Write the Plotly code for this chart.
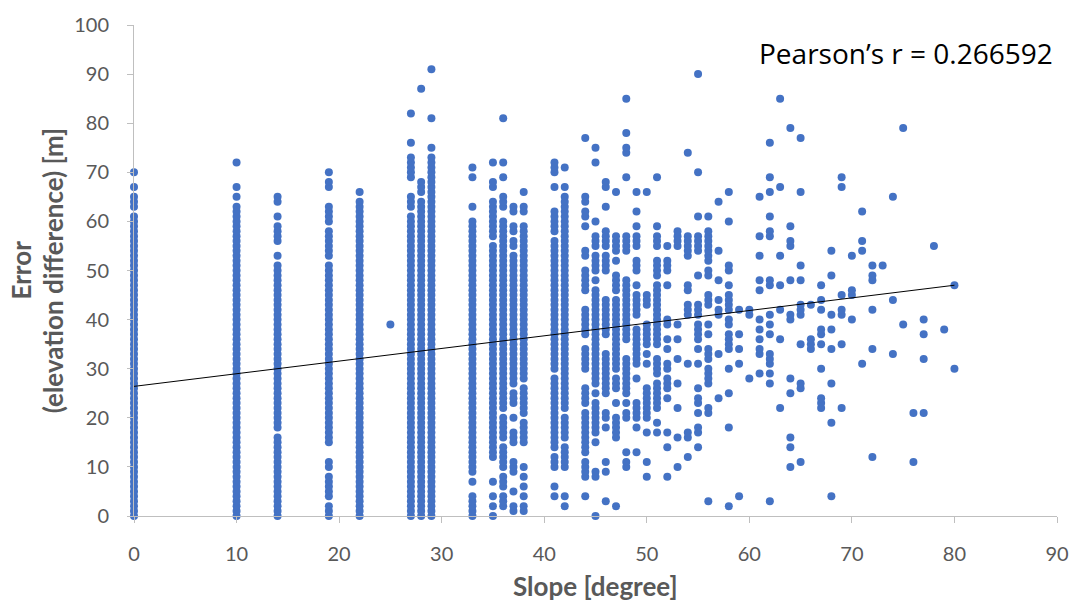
import plotly.graph_objects as go

# Slope value of each column of points, and the error values read for that column.
# "a-b" means an unbroken streak of points from a to b (one point per metre).
slope_columns = [0, 10, 14, 19, 22, 25, 27, 28, 29, 33, 35, 36, 37, 38, 41, 42,
                 44, 45, 46, 47, 48, 49, 50, 51, 52, 53, 54, 55, 56, 57, 58, 59,
                 60, 61, 62, 63, 64, 65, 66, 67, 68, 69, 70, 71, 72, 73, 74, 75,
                 76, 77, 78, 79, 80]
error_runs = [
    "0-61 63-65 67 70",                                   # 0
    "0-63 65 67 72",                                      # 10
    "0-16 18-51 53 56-59 61 64 65",                       # 14
    "0-2 4-8 10 11 15-51 53-58 60-63 67 68 70",           # 19
    "0-64 66",                                            # 22
    "39",                                                 # 25
    "0-61 63-65 69-73 76 82",                             # 27
    "0-64 66-68 87",                                      # 28
    "0-73 75 81 91",                                      # 29
    "0-4 7 9-60 63 69 71",                                # 33
    "0 2 4 7 12-55 57-64 67 68 72",                       # 35
    "2-4 6-8 10-14 16-20 22-60 63-65 69 72 81",           # 36
    "1 2 5 9-11 15-17 20 23-25 27-53 55 56 58 59 62 63",  # 37
    "1 2 4 6 8 10 15-19 21-26 28-59 62 63 66",            # 38
    "4 6 10-12 14-28 30-56 58-62 67 70-72",               # 41
    "2 4 10-14 16-20 22-65 67 71",                        # 42
    "4 8-11 13-21 23-26 30-34 37-42 46-50 53 54 59 61 62 64 65 77",  # 44
    "0 8 9 15 17-23 25 27-46 48 50-53 55-57 60 72 75",    # 45
    "3 9 11 18 20 21 25-33 37-44 50-53 55-58 63 67 68",   # 46
    "2 16-20 23 26-28 30-44 46-49 52 54-57 66",           # 47
    "10 11 13 20 21 23 25-32 36-48 54-57 69 74 75 78 85", # 48
    "13 18 20-23 28 31-38 41-45 47 50-52 55-57 59 62 66", # 49
    "8 11 17 20-26 31 33 35-39 43-45 66",                 # 50
    "17 19 22-27 29-32 35-47 49-52 55-57 59 69",          # 51
    "8 14 17 24 26-28 30 31 34 36 39 40 47 50-52 55",     # 52
    "10 16 22 27 32 36 39 55-58",                         # 53
    "12 16 17 31 41-43 46 47 53-57 74",                   # 54
    "14 17 18 21 23 24 26 31 34 36-39 41-43 49 54-57 61 70 90",  # 55
    "3 21 22 27-30 32-34 37 39 43-45 49 50 52-58 61",     # 56
    "24 33 41 42 44 48 54 64",                            # 57
    "2 18 25 30 34-37 39 40 42-45 47 50 51 60 66",        # 58
    "4 31 34 37 42",                                      # 59
    "28 41 42",                                           # 60
    "29 33 34 36 38 40 46 48 53 57 65",                   # 61
    "3 27 29 31-33 37 39 41 47 48 57 58 61 66 69 76",     # 62
    "22 36 42 47 53 67 85",                               # 63
    "10 14 16 25 28 40 41 48 55 56 59 79",                # 64
    "11 26 27 35 41-43 48 51 66 77",                      # 65
    "34-36 43",                                           # 66
    "22-24 30 35 37 38 42 44 47",                         # 67
    "4 19 27 34 38 41 49 54",                             # 68
    "22 35 41 42 45 67 69",                               # 69
    "40 45 46 53",                                        # 70
    "31 54 56 62",                                        # 71
    "12 34 42 48 49 51",                                  # 72
    "51",                                                 # 73
    "33 44 65",                                           # 74
    "39 79",                                              # 75
    "11 21",                                              # 76
    "21 32 37 40",                                        # 77
    "55",                                                 # 78
    "38",                                                 # 79
    "30 47",                                              # 80
]

# Linear trendline end points
trend_x = [0, 80]
trend_y = [26.4, 47.0]

pearson_text = "Pearson’s r = 0.266592"
x_title = "Slope [degree]"
y_title_lines = ["Error", "(elevation difference) [m]"]
x_tick_values = [0, 10, 20, 30, 40, 50, 60, 70, 80, 90]
y_tick_values = [0, 10, 20, 30, 40, 50, 60, 70, 80, 90, 100]


def expand(run_string):
    values = []
    for token in run_string.split():
        if "-" in token:
            lo, hi = token.split("-")
            values.extend(range(int(lo), int(hi) + 1))
        else:
            values.append(int(token))
    return values


xs, ys = [], []
for slope, runs in zip(slope_columns, error_runs):
    vals = expand(runs)
    xs.extend([slope] * len(vals))
    ys.extend(vals)

BLUE = "#4472C4"
GRAY = "#595959"
AXIS = "#BFBFBF"
FONT = "Lato, 'Open Sans', sans-serif"
FONT2 = "'Open Sans', Lato, sans-serif"

fig = go.Figure()
fig.add_trace(go.Scatter(
    x=xs, y=ys, mode="markers",
    marker=dict(color=BLUE, size=8, line=dict(width=0)),
    cliponaxis=False, hoverinfo="x+y", showlegend=False,
))
fig.add_trace(go.Scatter(
    x=trend_x, y=trend_y, mode="lines",
    line=dict(color="black", width=1),
    cliponaxis=False, showlegend=False, hoverinfo="skip",
))

W, H = 1081, 601
PLOT_L, PLOT_R, PLOT_T, PLOT_B = 134, 1061, 23, 516   # window pixels
pw = PLOT_R - PLOT_L
ph = PLOT_B - PLOT_T
L, T = PLOT_L, PLOT_T
R = W - L - pw
B = H - T - ph


def wx(px):
    return (px - PLOT_L) / pw


def wy(py):
    return (PLOT_B - py) / ph


annotations = [
    dict(text=pearson_text, xref="paper", yref="paper",
         x=wx(1059), y=wy(51), xanchor="right", yanchor="middle",
         showarrow=False, font=dict(family=FONT2, size=28, color="black")),
    dict(text="<b>" + x_title + "</b>", xref="paper", yref="paper",
         x=wx(597), y=wy(586), xanchor="center", yanchor="middle",
         showarrow=False, font=dict(family=FONT, size=26, color=GRAY)),
    dict(text="<b>" + y_title_lines[0] + "</b>", xref="paper", yref="paper",
         x=wx(21), y=wy(269), xanchor="center", yanchor="middle",
         textangle=-90, showarrow=False, font=dict(family=FONT, size=26, color=GRAY)),
    dict(text="<b>" + y_title_lines[1] + "</b>", xref="paper", yref="paper",
         x=wx(53), y=wy(269), xanchor="center", yanchor="middle",
         textangle=-90, showarrow=False, font=dict(family=FONT, size=26, color=GRAY)),
]

fig.update_layout(
    width=W, height=H,
    margin=dict(l=L, r=R, t=T, b=B, pad=0),
    paper_bgcolor="white", plot_bgcolor="white",
    font=dict(family=FONT, color=GRAY),
    annotations=annotations,
    xaxis=dict(range=[0, 90], tickvals=x_tick_values, showgrid=False, zeroline=False,
               showline=True, linecolor=AXIS, linewidth=1,
               ticks="outside", ticklen=6, tickcolor=AXIS, tickwidth=1,
               ticklabelstandoff=14,
               tickfont=dict(family=FONT, size=20, color=GRAY)),
    yaxis=dict(range=[0, 100], tickvals=y_tick_values, showgrid=False, zeroline=False,
               showline=True, linecolor=AXIS, linewidth=1,
               ticks="outside", ticklen=6, tickcolor=AXIS, tickwidth=1,
               ticklabelstandoff=14,
               tickfont=dict(family=FONT, size=20, color=GRAY)),
)

# Remove the page's default 8 px body margin so the figure fills the window exactly.
fig.write_html("out.html",
               config={"displayModeBar": False},
               post_script="document.body.style.margin='0px';document.body.style.overflow='hidden';")
